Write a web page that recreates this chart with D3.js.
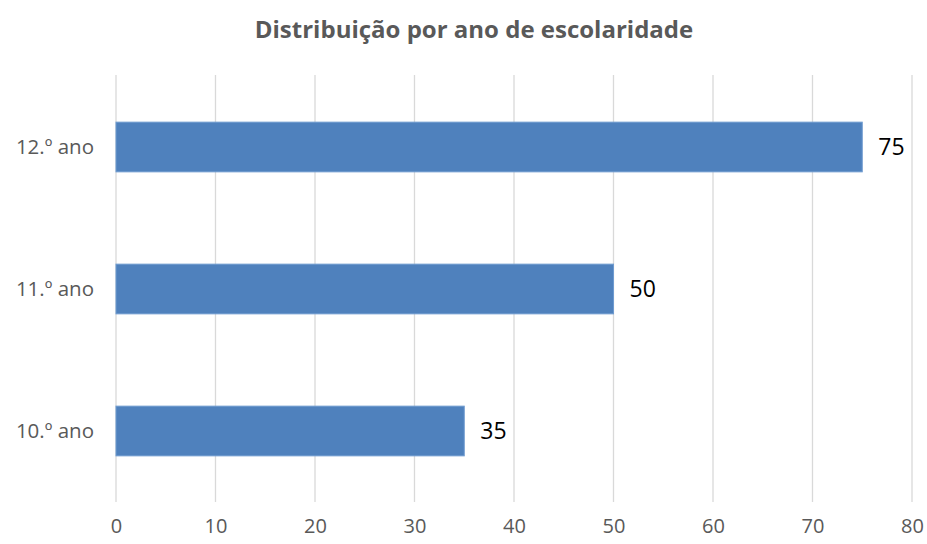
<!DOCTYPE html>
<html>
<head>
<meta charset="utf-8">
<script src="https://cdn.jsdelivr.net/npm/d3@7"></script>
<style>
  body { margin: 0; background: #fff; }
  svg { font-family: "Open Sans", "Noto Sans", sans-serif; }
</style>
</head>
<body>
<div id="grafico"></div>
<script>
// dados
var anos = ["12.º ano", "11.º ano", "10.º ano"];
var alunos = [75, 50, 35];
var ticksX = [0, 10, 20, 30, 40, 50, 60, 70, 80];
var titulo = "Distribuição por ano de escolaridade";

var W = 927, H = 544;
var margin = {top: 76, right: 15, bottom: 42, left: 116};

var svg = d3.select("#grafico").append("svg")
    .attr("width", W)
    .attr("height", H);

var x = d3.scaleLinear().domain([0, 80]).range([margin.left, W - margin.right]);
var y = d3.scaleBand().domain(anos)
    .range([margin.top, H - margin.bottom])
    .paddingInner(0.65).paddingOuter(0.325);

// titulo
svg.append("text")
    .attr("x", 474)
    .attr("y", 38)
    .attr("text-anchor", "middle")
    .attr("fill", "#595959")
    .style("font-size", "24px")
    .style("font-weight", "bold")
    .text(titulo);

// grelha vertical
svg.append("g").selectAll("line")
    .data(ticksX)
    .enter().append("line")
    .attr("x1", function(d) { return x(d); })
    .attr("x2", function(d) { return x(d); })
    .attr("y1", margin.top - 1)
    .attr("y2", H - margin.bottom)
    .attr("stroke", "#d9d9d9")
    .attr("stroke-width", 1.3);

// eixo x (so os numeros)
var eixoX = svg.append("g")
    .attr("transform", "translate(0," + (H - margin.bottom) + ")")
    .call(d3.axisBottom(x).tickValues(ticksX).tickSize(0).tickPadding(17));
eixoX.select(".domain").remove();
eixoX.selectAll("text")
    .attr("fill", "#595959")
    .style("font-size", "20px")
    .style("font-family", "'Open Sans', sans-serif");

// eixo y (categorias)
var eixoY = svg.append("g")
    .attr("transform", "translate(" + margin.left + ",0)")
    .call(d3.axisLeft(y).tickSize(0).tickPadding(22));
eixoY.select(".domain").remove();
eixoY.selectAll("text")
    .attr("fill", "#595959")
    .style("font-size", "20.5px")
    .style("font-family", "'Open Sans', sans-serif");

// barras
svg.append("g").selectAll("rect")
    .data(alunos)
    .enter().append("rect")
    .attr("x", x(0))
    .attr("y", function(d, i) { return y(anos[i]); })
    .attr("width", function(d) { return x(d) - x(0); })
    .attr("height", y.bandwidth())
    .attr("fill", "#4f81bd")
    .attr("stroke", "#6f9bd0")
    .attr("stroke-width", 1);

// valores
svg.append("g").selectAll("text")
    .data(alunos)
    .enter().append("text")
    .attr("x", function(d) { return x(d) + 16; })
    .attr("y", function(d, i) { return y(anos[i]) + y.bandwidth() / 2; })
    .attr("dy", "0.36em")
    .attr("fill", "#000")
    .style("font-size", "23px")
    .text(function(d) { return d; });
</script>
</body>
</html>
